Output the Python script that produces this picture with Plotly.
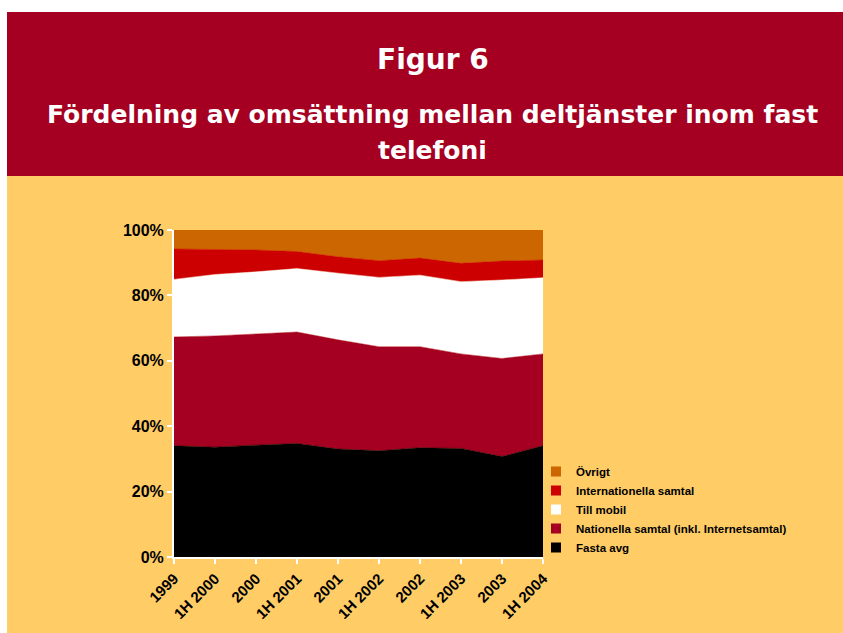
import plotly.graph_objects as go

# periods on the x axis
periods = ["1999", "1H 2000", "2000", "1H 2001", "2001",
           "1H 2002", "2002", "1H 2003", "2003", "1H 2004"]

# share of revenue (%) per service
fasta_avg = [34.0, 33.6, 34.2, 34.7, 33.0, 32.5, 33.4, 33.2, 30.7, 34.0]
nationella = [33.3, 34.0, 34.0, 34.1, 33.4, 31.8, 30.9, 28.9, 30.0, 28.1]
till_mobil = [17.6, 18.8, 19.0, 19.4, 20.4, 21.2, 21.9, 22.1, 24.0, 23.3]
internationella = [9.3, 7.6, 6.7, 5.2, 5.0, 5.1, 5.2, 5.6, 5.8, 5.4]
ovrigt = [5.8, 6.0, 6.1, 6.6, 8.2, 9.4, 8.6, 10.2, 9.5, 9.2]

y_ticks = [0, 20, 40, 60, 80, 100]
y_labels = ["0%", "20%", "40%", "60%", "80%", "100%"]

series = [
    ("Fasta avg", fasta_avg, "#000000"),
    ("Nationella samtal (inkl. Internetsamtal)", nationella, "#A50021"),
    ("Till mobil", till_mobil, "#FFFFFF"),
    ("Internationella samtal", internationella, "#CC0000"),
    ("Övrigt", ovrigt, "#CC6600"),
]

RED = "#A50021"
YELLOW = "#FFCC66"

W, H = 843, 633
L, R, T, B = 174, 300, 230, 76
pw, ph = W - L - R, H - T - B


def px_x(x):
    return (x - L) / pw


def px_y(y):
    return (H - B - y) / ph


fig = go.Figure()
for name, vals, col in series:
    fig.add_trace(go.Scatter(
        x=periods, y=vals, name=name, showlegend=False,
        mode="lines", stackgroup="one",
        line=dict(width=0.5, color=col),
        fillcolor=col,
    ))
# legend entries drawn as small squares
for name, vals, col in series:
    fig.add_trace(go.Scatter(
        x=[None], y=[None], name=name, mode="markers",
        marker=dict(symbol="square", size=10, color=col),
    ))

shapes = [
    # white strip top and left
    dict(type="rect", xref="paper", yref="paper", x0=px_x(0), x1=px_x(W), y0=px_y(0), y1=px_y(12),
         fillcolor="white", line_width=0, layer="below"),
    dict(type="rect", xref="paper", yref="paper", x0=px_x(0), x1=px_x(7), y0=px_y(0), y1=px_y(H),
         fillcolor="white", line_width=0, layer="below"),
    # red header
    dict(type="rect", xref="paper", yref="paper", x0=px_x(7), x1=px_x(W), y0=px_y(12), y1=px_y(176),
         fillcolor=RED, line_width=0, layer="below"),
]

title_font = dict(family="DejaVu Sans", color="white", weight="bold")
annotations = [
    dict(text="Figur 6", xref="paper", yref="paper", x=px_x(433), y=px_y(60),
         xanchor="center", yanchor="middle", showarrow=False, font=dict(size=28, **title_font)),
    dict(text="Fördelning av omsättning mellan deltjänster inom fast", xref="paper", yref="paper",
         x=px_x(432), y=px_y(114), xanchor="center", yanchor="middle",
         showarrow=False, font=dict(size=25, **title_font)),
    dict(text="telefoni", xref="paper", yref="paper",
         x=px_x(432), y=px_y(150), xanchor="center", yanchor="middle",
         showarrow=False, font=dict(size=25, **title_font)),
]

fig.update_layout(
    width=W, height=H,
    margin=dict(l=L, r=R, t=T, b=B),
    paper_bgcolor=YELLOW,
    plot_bgcolor="rgba(0,0,0,0)",
    shapes=shapes,
    annotations=annotations,
    showlegend=True,
    legend=dict(
        x=px_x(536), y=px_y(457), xanchor="left", yanchor="top",
        traceorder="reversed", bgcolor="rgba(0,0,0,0)",
        font=dict(family="Arial", size=11.5, color="black", weight="bold"),
        itemwidth=30,
    ),
    xaxis=dict(
        type="category", range=[0, len(periods) - 1],
        showline=True, linecolor="white", linewidth=2,
        ticks="outside", tickcolor="white", ticklen=5, tickwidth=2,
        tickangle=-45, tickfont=dict(family="Arial", size=15, color="black", weight="bold"),
        showgrid=False, zeroline=False,
    ),
    yaxis=dict(
        range=[0, 100], tickmode="array", tickvals=y_ticks, ticktext=y_labels,
        showline=True, linecolor="white", linewidth=2,
        ticks="outside", tickcolor="white", ticklen=5, tickwidth=2,
        tickfont=dict(family="Arial", size=16, color="black", weight="bold"),
        showgrid=False, zeroline=False,
    ),
)

fig.write_html("out.html", config={"displayModeBar": False},
               post_script="document.body.style.margin='0';")
